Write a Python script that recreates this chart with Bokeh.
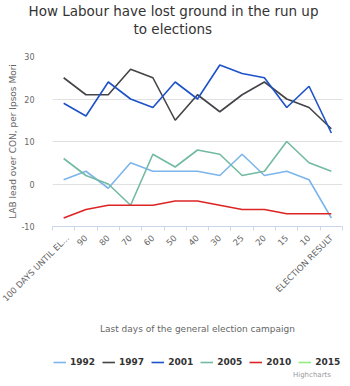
import math
from bokeh.plotting import figure
from bokeh.layouts import column
from bokeh.models import Range1d, FixedTicker, Legend, LegendItem, Title, Label
from bokeh.embed import file_html
from bokeh.resources import INLINE

categories = ["100 DAYS UNTIL EL...", "90", "80", "70", "60", "50", "40",
              "30", "25", "20", "15", "10", "ELECTION RESULT"]
lead_1992 = [1, 3, -1, 5, 3, 3, 3, 2, 7, 2, 3, 1, -8]
lead_1997 = [25, 21, 21, 27, 25, 15, 21, 17, 21, 24, 20, 18, 13]
lead_2001 = [19, 16, 24, 20, 18, 24, 20, 28, 26, 25, 18, 23, 12]
lead_2005 = [6, 2, 0, -5, 7, 4, 8, 7, 2, 3, 10, 5, 3]
lead_2010 = [-8, -6, -5, -5, -5, -4, -4, -5, -6, -6, -7, -7, -7]
lead_2015 = []
series_names = ["1992", "1997", "2001", "2005", "2010", "2015"]
y_ticks = [-10, 0, 10, 20, 30]

colors = ["#7cb5ec", "#434348", "#1d52c9", "#72baa1", "#dc2424", "#90ed7d"]
FONT = "DejaVu Sans"

x_idx = list(range(len(categories)))

p = figure(frame_width=290, frame_height=170,
           x_range=Range1d(-0.5, len(categories) - 0.5),
           y_range=Range1d(y_ticks[0], y_ticks[-1]),
           output_backend="svg", toolbar_location=None,
           min_border_left=52, min_border_right=8, min_border_top=55,
           min_border_bottom=0)
p.outline_line_color = None
p.background_fill_color = "white"
p.border_fill_color = "white"

# x axis
p.xaxis.ticker = FixedTicker(ticks=x_idx,
                             minor_ticks=[i - 0.5 for i in range(len(categories) + 1)])
p.xaxis.major_label_overrides = {i: c for i, c in enumerate(categories)}
p.xaxis.major_label_orientation = math.pi / 4
p.xaxis.major_tick_line_color = None
p.xaxis.major_tick_out = 0
p.xaxis.major_tick_in = 0
p.xaxis.minor_tick_line_color = "#ccd6eb"
p.xaxis.minor_tick_out = 4
p.xaxis.minor_tick_in = 0
p.xaxis.axis_line_color = "#ccd6eb"
p.xaxis.major_label_text_font = FONT
p.xaxis.major_label_text_font_size = "8.5px"
p.xaxis.major_label_text_color = "#666666"
p.xaxis.major_label_standoff = 6
p.xaxis.axis_label = "Last days of the general election campaign"
p.xaxis.axis_label_text_font = FONT
p.xaxis.axis_label_text_font_size = "9px"
p.xaxis.axis_label_text_font_style = "normal"
p.xaxis.axis_label_text_color = "#666666"
p.xaxis.axis_label_standoff = 14
p.xgrid.grid_line_color = None

# y axis
p.yaxis.ticker = FixedTicker(ticks=y_ticks)
p.yaxis.major_label_overrides = {t: str(t) for t in y_ticks}
p.yaxis.axis_line_color = None
p.yaxis.major_tick_line_color = None
p.yaxis.minor_tick_line_color = None
p.yaxis.major_label_text_font = FONT
p.yaxis.major_label_text_font_size = "8px"
p.yaxis.major_label_text_color = "#666666"
p.yaxis.major_label_standoff = 12
p.yaxis.axis_label = "LAB lead over CON, per Ipsos Mori"
p.yaxis.axis_label_text_font = FONT
p.yaxis.axis_label_text_font_size = "9px"
p.yaxis.axis_label_text_font_style = "normal"
p.yaxis.axis_label_text_color = "#666666"
p.yaxis.axis_label_standoff = 0
p.ygrid.grid_line_color = "#e0e0e0"
p.ygrid.grid_line_width = 1

series = [lead_1992, lead_1997, lead_2001, lead_2005, lead_2010, lead_2015]
for name, vals, col in zip(series_names, series, colors):
    p.line(x_idx[:len(vals)], vals, line_color=col, line_width=1.6)

# title: spacer row next to the frame, then the two title lines
p.add_layout(Title(text=" ", text_font_size="12px", standoff=4), "above")
title_lines = ["How Labour have lost ground in the run up", "to elections"]
title_offsets = [-24, 81]
for line, off in reversed(list(zip(title_lines, title_offsets))):
    p.add_layout(Title(text=line, align="left", offset=off, standoff=0,
                       text_font=FONT, text_font_size="13.5px",
                       text_font_style="normal", text_color="#333333"), "above")

# legend strip with credits (no axes: its frame is the whole strip)
LEG_H = 48
lg = figure(width=350, height=LEG_H, x_range=Range1d(0, 350), y_range=Range1d(0, LEG_H),
            output_backend="svg", toolbar_location=None,
            min_border_left=0, min_border_right=0, min_border_top=0, min_border_bottom=0,
            x_axis_location=None, y_axis_location=None)
lg.grid.visible = False
lg.outline_line_color = None
lg.background_fill_color = "white"
nan = float("nan")
items = []
for name, col in zip(series_names, colors):
    r = lg.line([0], [nan], line_color=col, line_width=1.6)
    items.append(LegendItem(label=name, renderers=[r]))
legend = Legend(items=items, orientation="horizontal", location=(1, 17),
                label_text_font=FONT, label_text_font_size="9px",
                label_text_font_style="bold", label_text_color="#333333",
                glyph_width=13, glyph_height=10, label_standoff=4, spacing=7,
                padding=2, margin=0, border_line_color=None,
                background_fill_alpha=0)
lg.add_layout(legend, "center")
lg.add_layout(Label(x=336, y=10, text="Highcharts", text_align="right",
                    text_baseline="middle", text_font=FONT, text_font_size="7px",
                    text_color="#999999"))

layout = column(p, lg, spacing=0)
open("out.html", "w").write(file_html(layout, INLINE))
